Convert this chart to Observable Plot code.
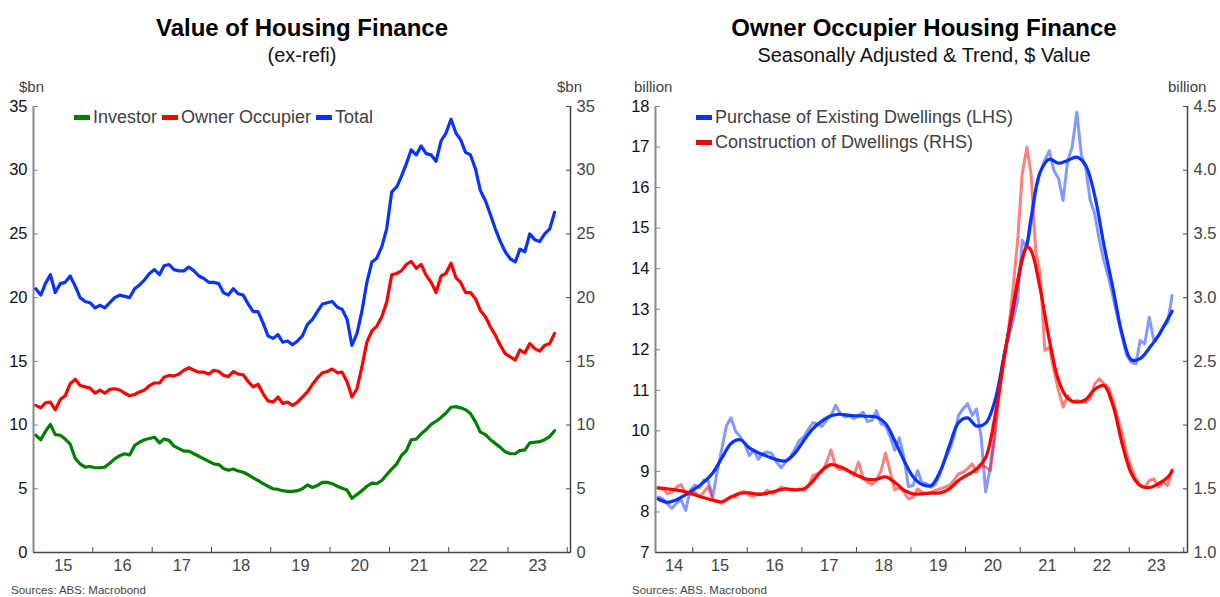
<!DOCTYPE html>
<html><head><meta charset="utf-8">
<script src="https://cdn.jsdelivr.net/npm/d3@7"></script>
<script src="https://cdn.jsdelivr.net/npm/@observablehq/plot@0.6"></script>
<style>
body{margin:0;background:#fff;font-family:"Liberation Sans",Arial,sans-serif;}
#root{position:relative;width:1220px;height:597px;overflow:hidden;background:#fff;}
.abs{position:absolute;white-space:nowrap;}
.title{font-weight:bold;font-size:24px;line-height:28px;color:#000;text-align:center;width:610px;}
.sub{font-size:20px;line-height:24px;color:#111;text-align:center;width:610px;}
.unit{font-size:15px;line-height:18px;color:#404040;}
.leg{font-size:18px;line-height:22px;color:#404040;}
.sw{position:absolute;width:16px;height:5px;}
.src{font-size:11.5px;line-height:12px;color:#444;}
.panel{position:absolute;top:70px;}
</style></head><body><div id="root"></div>
<script>
// ---------------- Left panel data (monthly, Jan 2015 - Oct 2023, $bn) ----------------
const leftStartYear = 2015;
const investor = [9.2,8.85,9.5,10.05,9.25,9.2,8.9,8.5,7.4,6.95,6.7,6.75,
6.65,6.65,6.7,7.0,7.35,7.6,7.75,7.65,8.4,8.65,8.85,8.95,
9.05,8.6,8.9,8.8,8.35,8.15,7.95,7.95,7.75,7.55,7.35,7.15,
6.95,6.9,6.6,6.45,6.55,6.4,6.3,6.1,5.85,5.65,5.4,5.2,
5.0,4.95,4.85,4.8,4.8,4.85,5.0,5.3,5.1,5.25,5.5,5.5,
5.4,5.2,5.05,4.9,4.25,4.55,4.85,5.2,5.45,5.4,5.65,6.1,
6.55,6.95,7.6,8.0,8.85,8.9,9.3,9.65,10.05,10.3,10.6,10.95,
11.4,11.45,11.35,11.2,10.9,10.25,9.45,9.25,8.85,8.55,8.25,7.9,
7.75,7.75,8.0,8.05,8.6,8.65,8.7,8.85,9.1,9.55];
const ownerOccupier = [11.55,11.35,11.75,11.8,11.2,12.0,12.3,13.25,13.6,13.1,13.0,12.9,
12.5,12.75,12.5,12.8,12.85,12.75,12.5,12.3,12.4,12.6,12.75,13.1,
13.3,13.3,13.75,13.9,13.85,14.0,14.3,14.5,14.3,14.15,14.15,14.0,
14.3,14.2,13.9,13.8,14.2,14.0,13.95,13.4,13.0,13.2,12.45,11.9,
11.8,12.2,11.7,11.8,11.55,11.8,12.2,12.6,13.2,13.7,14.1,14.2,
14.4,14.1,14.15,13.4,12.2,12.85,14.55,16.5,17.4,17.75,18.5,19.65,
21.8,21.9,22.1,22.6,22.85,22.3,22.6,21.75,21.2,20.4,21.7,21.9,
22.7,21.55,21.2,20.4,20.4,19.9,19.0,18.5,17.7,17.05,16.25,15.6,
15.35,15.1,15.9,15.65,16.4,16.0,15.8,16.25,16.4,17.2];
const totalFinance = [20.7,20.2,21.1,21.8,20.4,21.1,21.2,21.7,20.9,20.0,19.7,19.6,
19.2,19.4,19.2,19.6,20.0,20.2,20.1,20.0,20.7,21.0,21.4,21.9,
22.2,21.8,22.5,22.6,22.2,22.1,22.1,22.4,22.1,21.7,21.5,21.2,
21.2,21.1,20.4,20.2,20.7,20.3,20.2,19.5,18.9,18.9,18.0,17.0,
16.8,17.1,16.5,16.6,16.3,16.6,17.0,17.9,18.3,18.9,19.5,19.6,
19.7,19.25,19.1,18.3,16.25,17.2,18.9,21.2,22.8,23.1,24.0,25.4,
28.3,28.7,29.5,30.5,31.6,31.2,31.9,31.3,31.2,30.7,32.3,32.9,
34.0,32.9,32.4,31.4,31.2,30.1,28.4,27.6,26.5,25.4,24.4,23.6,
23.05,22.8,23.8,23.6,25.0,24.55,24.4,25.0,25.4,26.7];
const leftTicks = [0,5,10,15,20,25,30,35];
const leftYears = [2015,2016,2017,2018,2019,2020,2021,2022,2023];

// ---------------- Right panel data (monthly, May 2014 - Oct 2023, $ billion) ----------------
const rightStart = [2014, 4]; // May 2014
const purchaseSA = [8.37,8.32,8.2,8.09,8.22,8.3,8.04,8.53,8.66,8.59,8.79,8.76,8.37,9.02,9.56,10.13,10.32,9.99,9.86,9.68,
9.39,9.52,9.3,9.45,9.48,9.43,9.23,9.09,9.23,9.35,9.56,9.76,9.86,10.05,10.2,10.17,10.11,10.26,10.38,10.63,
10.42,10.34,10.38,10.3,10.38,10.46,10.23,10.26,10.5,10.17,10.12,9.85,9.52,9.83,9.34,8.63,8.65,9.02,8.72,8.7,
8.61,8.69,8.94,9.27,9.52,9.84,10.38,10.54,10.67,10.38,10.54,9.84,8.49,9.1,10.01,11.08,11.9,12.31,12.72,13.22,
14.7,14.53,15.1,15.93,16.38,16.67,16.91,16.42,16.22,15.68,16.67,17.0,17.86,16.79,16.5,15.68,15.35,14.7,14.2,13.79,
13.3,12.8,12.31,11.86,11.69,11.65,12.23,12.15,12.8,12.23,12.35,12.56,12.68,13.34];
const constructionSA = [1.513,1.5,1.46,1.473,1.513,1.534,1.46,1.455,1.473,1.44,1.473,1.518,1.42,1.403,1.387,1.413,1.44,1.434,1.473,1.479,
1.447,1.44,1.466,1.46,1.49,1.46,1.479,1.513,1.5,1.49,1.487,1.5,1.487,1.526,1.604,1.617,1.63,1.709,1.806,1.67,
1.649,1.657,1.63,1.604,1.709,1.578,1.552,1.534,1.565,1.643,1.78,1.63,1.49,1.513,1.473,1.42,1.434,1.5,1.473,1.466,
1.473,1.487,1.5,1.513,1.526,1.565,1.617,1.63,1.657,1.696,1.63,1.683,1.67,1.643,1.905,2.245,2.507,2.742,3.082,3.448,
3.97,4.18,3.97,3.37,3.187,2.585,2.611,2.428,2.271,2.14,2.232,2.18,2.193,2.18,2.18,2.206,2.324,2.363,2.324,2.297,
2.193,2.062,1.931,1.774,1.67,1.578,1.526,1.513,1.565,1.578,1.513,1.552,1.526,1.649];
// trend readings: months after May 2014
const trendMonths = [0,2,4,6,8,10,12,14,16,18,20,22,24,26,28,30,32,34,36,38,40,42,44,46,48,50,52,54,56,58,60,62,64,66,68,70,72,74,76,78,80,81,82,84,86,88,90,92,94,96,98,100,102,104,106,108,110,112,113];
const purchaseTrend = [8.32,8.24,8.3,8.43,8.57,8.73,8.96,9.33,9.69,9.78,9.58,9.46,9.37,9.29,9.26,9.45,9.77,10.05,10.24,10.37,
10.41,10.38,10.37,10.36,10.34,10.18,9.75,9.27,8.87,8.68,8.65,9.0,9.63,10.2,10.32,10.12,10.19,10.73,11.85,13.0,
14.25,14.6,15.25,16.38,16.7,16.6,16.67,16.75,16.55,15.8,14.6,13.5,12.38,11.75,11.78,12.04,12.34,12.75,12.95];
const constructionTrend = [1.505,1.5,1.49,1.477,1.453,1.43,1.41,1.398,1.436,1.465,1.468,1.456,1.466,1.485,1.5,1.492,1.5,1.56,1.645,1.69,
1.672,1.637,1.6,1.575,1.575,1.593,1.55,1.49,1.46,1.46,1.466,1.468,1.5,1.565,1.61,1.655,1.745,2.06,2.52,2.94,
3.3,3.4,3.37,3.07,2.67,2.35,2.21,2.18,2.2,2.28,2.31,2.15,1.85,1.62,1.525,1.51,1.54,1.59,1.64];
const rightLeftTicks = [7,8,9,10,11,12,13,14,15,16,17,18];
const rightRightTicks = [1.0,1.5,2.0,2.5,3.0,3.5,4.0,4.5];
const rightYears = [2014,2015,2016,2017,2018,2019,2020,2021,2022,2023];

// ---------------- Colours ----------------
const GREEN = "#008000", RED = "#ff0000", BLUE = "#0a32ff";
const FONT = "Liberation Sans, Arial, sans-serif";

const root = document.getElementById("root");
function addDiv(cls, text, left, top, extra) {
  const d = document.createElement("div");
  d.className = "abs " + cls;
  d.textContent = text;
  d.style.left = left + "px"; d.style.top = top + "px";
  if (extra) Object.assign(d.style, extra);
  root.appendChild(d);
  return d;
}
function swatch(color, left, top) {
  const d = document.createElement("div");
  d.className = "sw"; d.style.background = color;
  d.style.left = left + "px"; d.style.top = top + "px";
  root.appendChild(d);
}
const yy = d => String(d.getFullYear()).slice(2);
function yearLabelDates(years, dom) {
  return years.map(y => {
    const a = Math.max(+new Date(y,0,1), +dom[0]);
    const b = Math.min(+new Date(y+1,0,1), +dom[1]);
    return new Date((a + b) / 2);
  });
}

// ---------------- Left panel ----------------
const lDom = [new Date(2015,0,1), new Date(2024,0,21)];
const lDate = i => new Date(leftStartYear, i, 15);
const lRows = s => s.map((v, i) => ({date: lDate(i), value: v}));
const lYearStarts = leftYears.map(y => new Date(y + 1, 0, 1));
const leftPlot = Plot.plot({
  width: 610, height: 527,
  marginLeft: 33, marginRight: 40, marginTop: 36, marginBottom: 45,
  style: {fontFamily: FONT, fontSize: "16.5px", background: "transparent", overflow: "visible"},
  x: {type: "time", domain: lDom},
  y: {domain: [0, 35]},
  marks: [
    Plot.axisY(leftTicks, {anchor: "left", tickSize: 0, tickPadding: 6, fill: "#111", label: null, tickFormat: d => String(d)}),
    Plot.axisY(leftTicks, {anchor: "left", tickSize: -5, stroke: "#888", label: null, tickFormat: () => ""}),
    Plot.axisY(leftTicks, {anchor: "right", tickSize: 0, tickPadding: 6, fill: "#444", label: null, tickFormat: d => String(d)}),
    Plot.axisY(leftTicks, {anchor: "right", tickSize: -5, stroke: "#444", label: null, tickFormat: () => ""}),
    Plot.axisX(lYearStarts, {anchor: "bottom", tickSize: -5, stroke: "#444", label: null, tickFormat: () => ""}),
    Plot.axisX(yearLabelDates(leftYears, lDom), {anchor: "bottom", tickSize: 0, tickPadding: 7, fill: "#444", label: null, tickFormat: yy}),
    Plot.ruleY([0], {stroke: "#444", strokeWidth: 1.5}),
    Plot.ruleX([lDom[0]], {stroke: "#888", strokeWidth: 2}),
    Plot.ruleX([lDom[1]], {stroke: "#444", strokeWidth: 1.5}),
    Plot.lineY(lRows(investor), {x: "date", y: "value", stroke: GREEN, strokeWidth: 3.2, strokeLinejoin: "round"}),
    Plot.lineY(lRows(ownerOccupier), {x: "date", y: "value", stroke: RED, strokeWidth: 3.2, strokeLinejoin: "round"}),
    Plot.lineY(lRows(totalFinance), {x: "date", y: "value", stroke: BLUE, strokeWidth: 3.2, strokeLinejoin: "round"})
  ]
});
const lp = document.createElement("div"); lp.className = "panel"; lp.style.left = "0px";
lp.appendChild(leftPlot); root.appendChild(lp);

// ---------------- Right panel ----------------
const rDom = [new Date(2014,3,27), new Date(2024,0,26)];
const rDate = k => new Date(rightStart[0], rightStart[1] + k, 15);
const toL = r => 7 + (r - 1) * 11 / 3.5;
const toR = l => 1 + (l - 7) * 3.5 / 11;
const rYearStarts = rightYears.map(y => new Date(y + 1, 0, 1));
const saPurchase = purchaseSA.map((v, k) => ({date: rDate(k), value: v}));
const saConstruction = constructionSA.map((v, k) => ({date: rDate(k), value: toL(v)}));
const trPurchase = purchaseTrend.map((v, j) => ({date: rDate(trendMonths[j]), value: v}));
const trConstruction = constructionTrend.map((v, j) => ({date: rDate(trendMonths[j]), value: toL(v)}));
const rightPlot = Plot.plot({
  width: 610, height: 527,
  marginLeft: 45, marginRight: 33, marginTop: 36, marginBottom: 45,
  style: {fontFamily: FONT, fontSize: "16.5px", background: "transparent", overflow: "visible"},
  x: {type: "time", domain: rDom},
  y: {domain: [7, 18]},
  marks: [
    Plot.axisY(rightLeftTicks, {anchor: "left", tickSize: 0, tickPadding: 6, fill: "#111", label: null, tickFormat: d => String(d)}),
    Plot.axisY(rightLeftTicks, {anchor: "left", tickSize: -5, stroke: "#888", label: null, tickFormat: () => ""}),
    Plot.axisY(rightRightTicks.map(toL), {anchor: "right", tickSize: 0, tickPadding: 6, fill: "#444", label: null, tickFormat: d => toR(d).toFixed(1)}),
    Plot.axisY(rightRightTicks.map(toL), {anchor: "right", tickSize: -5, stroke: "#444", label: null, tickFormat: () => ""}),
    Plot.axisX(rYearStarts, {anchor: "bottom", tickSize: -5, stroke: "#444", label: null, tickFormat: () => ""}),
    Plot.axisX(yearLabelDates(rightYears, rDom), {anchor: "bottom", tickSize: 0, tickPadding: 7, fill: "#444", label: null, tickFormat: yy}),
    Plot.ruleY([7], {stroke: "#444", strokeWidth: 1.5}),
    Plot.ruleX([rDom[0]], {stroke: "#888", strokeWidth: 2}),
    Plot.ruleX([rDom[1]], {stroke: "#444", strokeWidth: 1.5}),
    Plot.lineY(saPurchase, {x: "date", y: "value", stroke: BLUE, strokeOpacity: 0.5, strokeWidth: 3, strokeLinejoin: "round"}),
    Plot.lineY(saConstruction, {x: "date", y: "value", stroke: RED, strokeOpacity: 0.5, strokeWidth: 3, strokeLinejoin: "round"}),
    Plot.lineY(trPurchase, {x: "date", y: "value", stroke: BLUE, strokeWidth: 3.2, curve: "catmull-rom"}),
    Plot.lineY(trConstruction, {x: "date", y: "value", stroke: RED, strokeWidth: 3.2, curve: "catmull-rom"})
  ]
});
const rp = document.createElement("div"); rp.className = "panel"; rp.style.left = "610px";
rp.appendChild(rightPlot); root.appendChild(rp);

// ---------------- Text ----------------
addDiv("title", "Value of Housing Finance", -3, 14);
addDiv("sub", "(ex-refi)", -3, 43);
addDiv("title", "Owner Occupier Housing Finance", 619, 14);
addDiv("sub", "Seasonally Adjusted & Trend, $ Value", 619, 43);
addDiv("unit", "$bn", 19, 78);
addDiv("unit", "$bn", 557, 78);
addDiv("unit", "billion", 634, 78);
addDiv("unit", "billion", 1168, 78);
swatch(GREEN, 74, 115); addDiv("leg", "Investor", 93, 106);
swatch(RED, 162, 115); addDiv("leg", "Owner Occupier", 181, 106);
swatch(BLUE, 316, 115); addDiv("leg", "Total", 335, 106);
swatch(BLUE, 696, 115); addDiv("leg", "Purchase of Existing Dwellings (LHS)", 715, 106);
swatch(RED, 696, 140); addDiv("leg", "Construction of Dwellings (RHS)", 715, 131);
addDiv("src", "Sources: ABS: Macrobond", 11, 584);
addDiv("src", "Sources: ABS. Macrobond", 632, 584);
</script></body></html>
